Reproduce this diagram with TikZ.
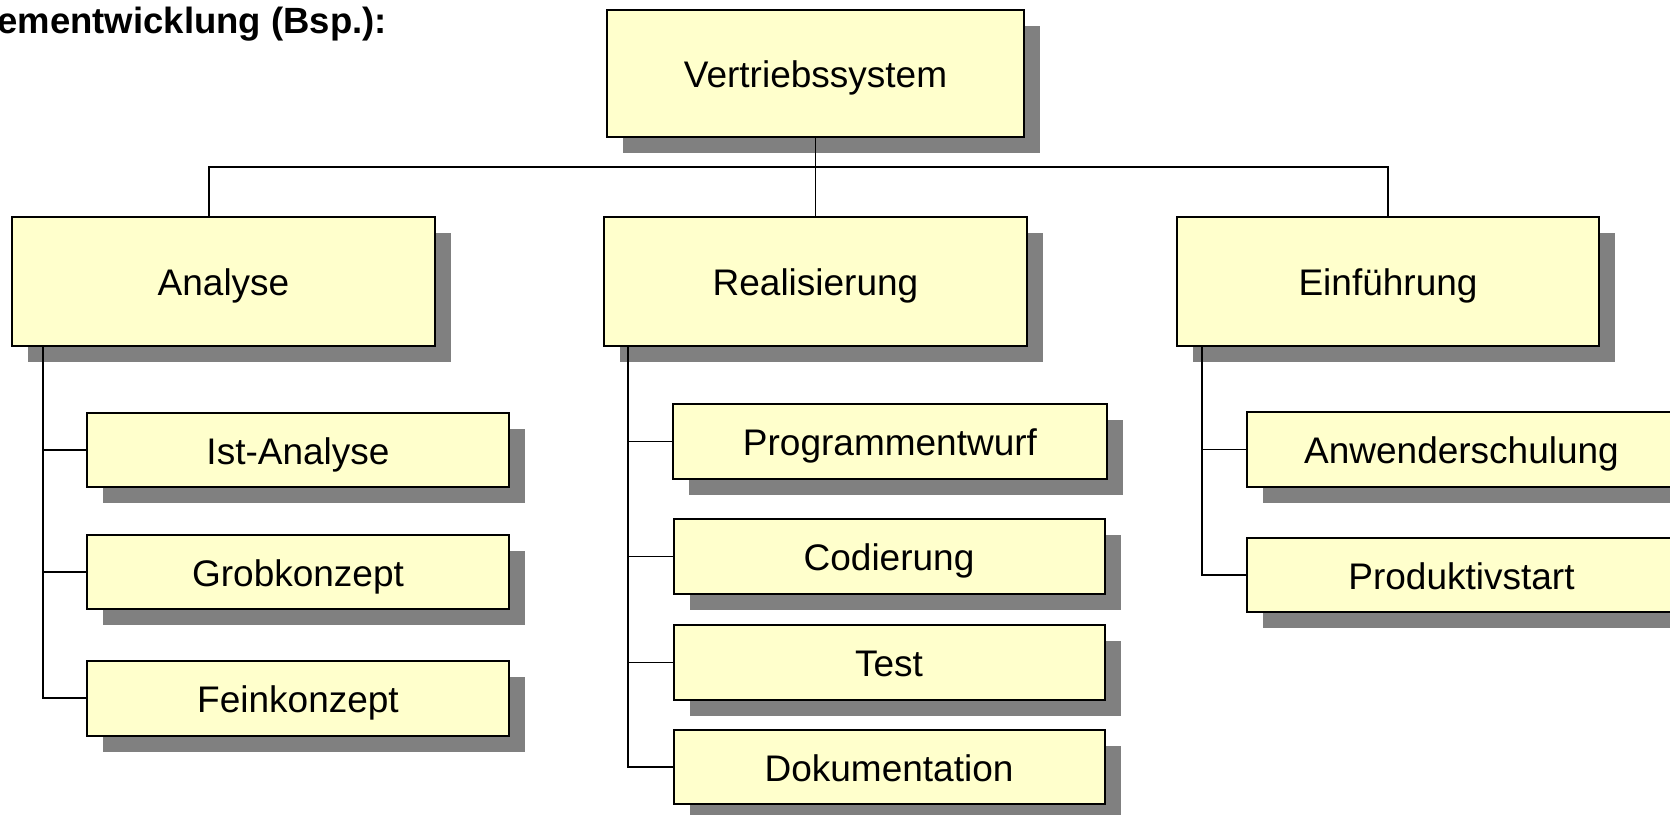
\documentclass[tikz,border=0pt]{standalone}
\usepackage{fontspec}
\setmainfont{Liberation Sans}
\usetikzlibrary{shadows}

\definecolor{boxfill}{HTML}{FFFFCC}
\definecolor{shadowgray}{HTML}{808080}

\tikzset{
  wbs/.style={draw=black, line width=2pt, fill=boxfill, inner sep=0pt,
    text height=32pt, text depth=4pt,
    font=\fontsize{37}{44}\selectfont,
    drop shadow={shadow xshift=16pt, shadow yshift=-16pt,
      fill=shadowgray, opacity=1}},
  link/.style={line width=1.8pt},
  heading/.style={inner sep=0pt, font=\fontsize{36.5}{42}\selectfont\bfseries}
}

\begin{document}
\begin{tikzpicture}[x=1pt, y=-1pt]
\useasboundingbox (0,0) rectangle (1670,814);
\clip (0,0) rectangle (1670,814);

% heading
\node[heading, anchor=base east] (hd) at (387,33) {ementwicklung (Bsp.):};

% top
\node[wbs, minimum width=417pt, minimum height=127pt] (vs) at (815.5,73.5) {Vertriebssystem};

% phases
\node[wbs, minimum width=423pt, minimum height=129pt] (ana) at (223.5,281.5) {Analyse};
\node[wbs, minimum width=423pt, minimum height=129pt] (rea) at (815.5,281.5) {Realisierung};
\node[wbs, minimum width=422pt, minimum height=129pt] (ein) at (1388,281.5) {Einführung};

% work packages
\node[wbs, minimum width=422pt, minimum height=74pt] (ist)  at (298,450) {Ist-Analyse};
\node[wbs, minimum width=422pt, minimum height=74pt] (grob) at (298,572) {Grobkonzept};
\node[wbs, minimum width=422pt, minimum height=75pt] (fein) at (298,698) {Feinkonzept};

\node[wbs, minimum width=434pt, minimum height=75pt] (prog) at (890,441.5) {Programmentwurf};
\node[wbs, minimum width=431pt, minimum height=75pt] (cod)  at (889,556.5) {Codierung};
\node[wbs, minimum width=431pt, minimum height=75pt] (test) at (889,662.5) {Test};
\node[wbs, minimum width=431pt, minimum height=74pt] (dok)  at (889,767) {Dokumentation};

\node[wbs, minimum width=429pt, minimum height=75pt] (anw)  at (1461.5,449.5) {Anwenderschulung};
\node[wbs, minimum width=429pt, minimum height=74pt] (prod) at (1461.5,575) {Produktivstart};

% bus
\coordinate (busl) at (209,167);
\coordinate (busr) at (1388,167);
\draw[link] (vs.south) -- (rea.north);
\draw[link] (busl |- ana.north) -- (busl) -- (busr) -- (ein.north);

% spines
\draw[link] ([xshift=32pt]ana.south west) coordinate (sa) |- (fein.west);
\foreach \n in {ist,grob}
  \draw[link] (\n.west) -- (\n.west -| sa);

\draw[link] ([xshift=25pt]rea.south west) coordinate (sr) |- (dok.west);
\foreach \n in {prog,cod,test}
  \draw[link] (\n.west) -- (\n.west -| sr);

\draw[link] ([xshift=26pt]ein.south west) coordinate (se) |- (prod.west);
\draw[link] (anw.west) -- (anw.west -| se);

\end{tikzpicture}
\end{document}
